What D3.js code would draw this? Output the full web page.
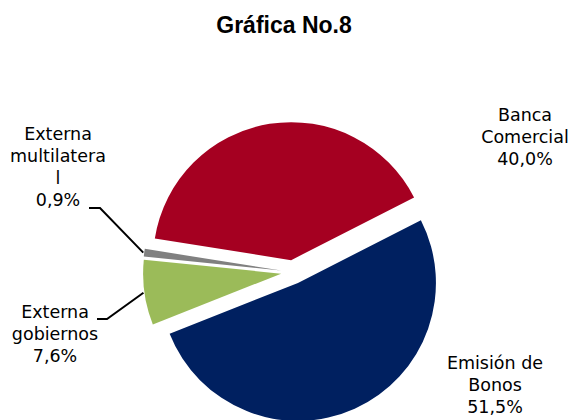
<!DOCTYPE html>
<html><head><meta charset="utf-8">
<script src="https://cdn.jsdelivr.net/npm/d3@7"></script>
<style>html,body{margin:0;padding:0;background:#fff;}svg{display:block;}</style>
</head><body>
<svg id="chart" width="572" height="420"></svg>
<script>
const categories = ["Banca Comercial", "Emisión de Bonos", "Externa gobiernos", "Externa multilateral"];
const values = [40.0, 51.5, 7.6, 0.9];
const valueLabels = ["40,0%", "51,5%", "7,6%", "0,9%"];
const labelLines = [["Banca", "Comercial", "40,0%"], ["Emisión de", "Bonos", "51,5%"], ["Externa", "gobiernos", "7,6%"], ["Externa", "multilatera", "l", "0,9%"]];
const colors = ["#A50021", "#002060", "#9BBB59", "#808080"];

const svg = d3.select("#chart");
const W = 572, H = 420;
const cx = 293, cy = 272, r = 138, explode = 12;

svg.append("text").attr("x", 284).attr("y", 33).attr("text-anchor", "middle")
  .attr("font-family", "Liberation Sans, Arial, sans-serif").attr("font-weight", "bold")
  .attr("font-size", 23).attr("fill", "#000").text("Gráfica No.8");

const data = categories.map((c, i) => ({ name: c, value: values[i], color: colors[i], lines: labelLines[i] }));
const pie = d3.pie().value(d => d.value).sort(null)
  .startAngle(-81 * Math.PI / 180).endAngle((360 - 81) * Math.PI / 180);
const arcs = pie(data);
const arc = d3.arc().innerRadius(0).outerRadius(r);

const g = svg.append("g").attr("transform", `translate(${cx},${cy})`);
function offset(a) {
  const m = (a.startAngle + a.endAngle) / 2;
  return [Math.sin(m) * explode, -Math.cos(m) * explode];
}
g.selectAll("path").data(arcs).join("path")
  .attr("d", arc)
  .attr("fill", d => d.data.color)
  .attr("transform", d => { const o = offset(d); return `translate(${o[0]},${o[1]})`; });

// labels
const labelPos = [
  { x: 525, y: 121 },
  { x: 495, y: 369 },
  { x: 55, y: 318 },
  { x: 58, y: 140 }
];
const lh = 22;
const font = "DejaVu Sans, Verdana, sans-serif";
arcs.forEach((a, i) => {
  const t = svg.append("text").attr("text-anchor", "middle").attr("font-family", font)
    .attr("font-size", 17.5).attr("fill", "#000");
  a.data.lines.forEach((ln, j) => {
    t.append("tspan").attr("x", labelPos[i].x).attr("y", labelPos[i].y + j * lh).text(ln);
  });
});

// leader lines for small slices
const leaders = [
  { idx: 2, start: [97, 319], knee: [107, 319] },
  { idx: 3, start: [89, 208], knee: [100, 208] }
];
leaders.forEach(L => {
  const a = arcs[L.idx];
  const m = (a.startAngle + a.endAngle) / 2;
  const o = offset(a);
  const ex = cx + o[0] + Math.sin(m) * (r + 1);
  const ey = cy + o[1] - Math.cos(m) * (r + 1);
  svg.append("polyline")
    .attr("points", [L.start, L.knee, [ex, ey]].map(p => p.join(",")).join(" "))
    .attr("fill", "none").attr("stroke", "#000").attr("stroke-width", 2);
});
</script>
</body></html>
